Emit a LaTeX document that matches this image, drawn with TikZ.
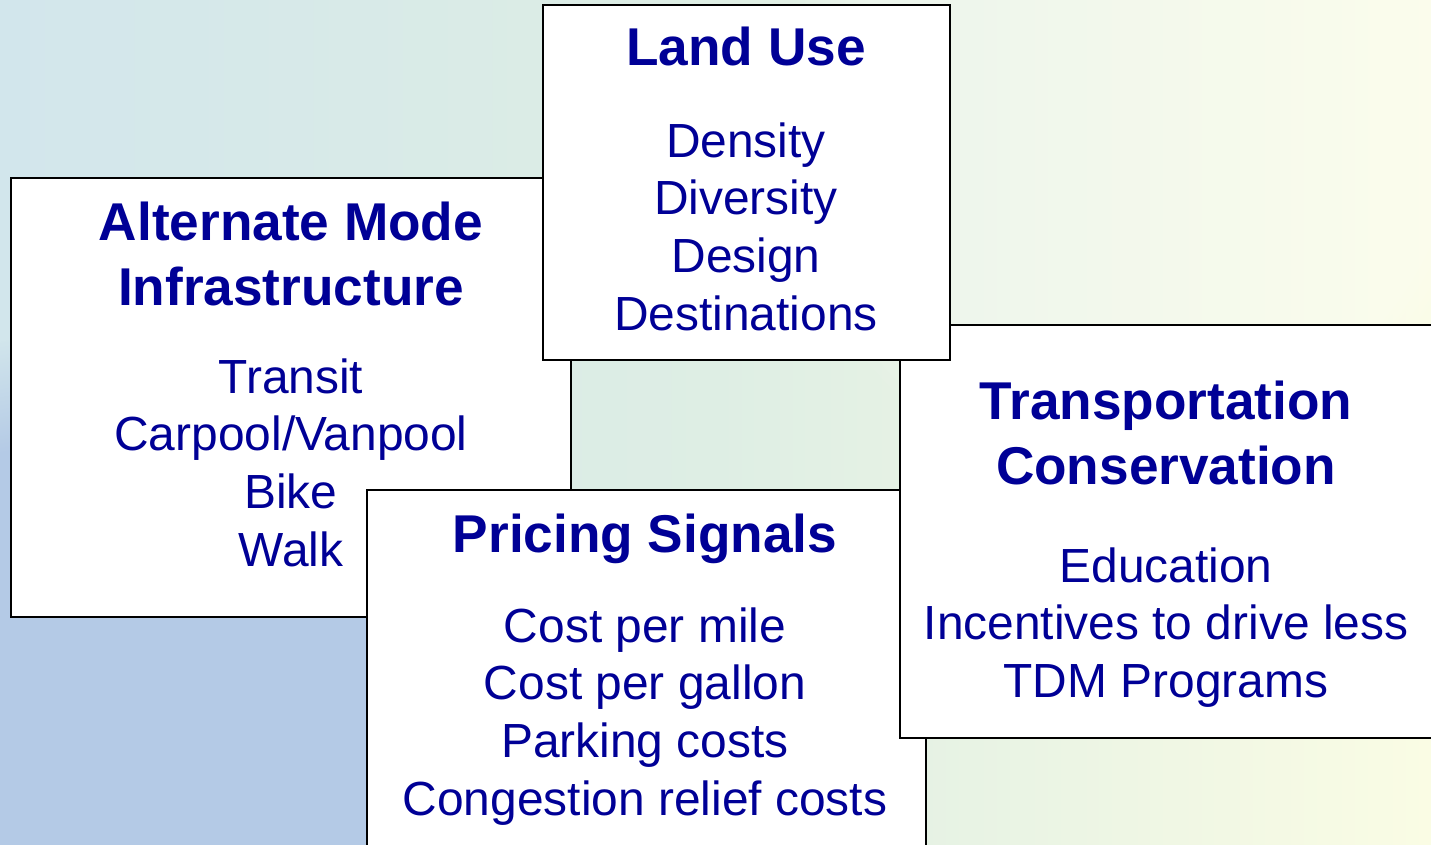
\documentclass[tikz,border=0pt]{standalone}
\usepackage{fontspec}
\setmainfont{Liberation Sans}
\usetikzlibrary{fadings}
\definecolor{navy}{RGB}{0,0,150}
\definecolor{bgL}{RGB}{210,230,236}
\definecolor{bgM}{RGB}{222,238,228}
\definecolor{bgR}{RGB}{250,252,228}
\definecolor{globe}{RGB}{180,202,230}
\tikzset{
  card/.style={draw=black, line width=2pt, fill=white, inner sep=0pt, anchor=north west},
  ttl/.style={text=navy, align=center, anchor=base, inner sep=0pt,
    font=\fontsize{53.2}{65}\selectfont\bfseries},
  bdy/.style={text=navy, align=center, anchor=base, inner sep=0pt,
    font=\fontsize{47.9}{57.7}\selectfont},
}
\begin{document}
\begin{tikzpicture}[x=1pt,y=-1pt]
\useasboundingbox (0,0) rectangle (1431,845);
\clip (0,0) rectangle (1431,845);
% background (base anchor of a multi-line node = last line's baseline)
\shade[left color=bgL, right color=bgR, middle color=bgM] (0,0) rectangle (1431,845);
\fill[globe, path fading=circle with fuzzy edge 20 percent] (110,900) circle (570);
\fill[white, opacity=0.3, path fading=circle with fuzzy edge 20 percent] (1150,120) circle (380);
% Alternate Mode Infrastructure
\node[card, minimum width=560pt, minimum height=439pt] (am) at (10,177) {};
\node[ttl] (amt) at (291,305) {Alternate Mode\\Infrastructure};
\node[bdy] (amb) at (291,566.1) {Transit\\Carpool/Vanpool\\Bike\\Walk};
% Pricing Signals
\node[card, minimum width=559pt, minimum height=380pt] (ps) at (366,489) {};
\node[ttl] (pst) at (645,552) {Pricing Signals};
\node[bdy] (psb) at (645,815.1) {Cost per mile\\Cost per gallon\\Parking costs\\Congestion relief costs};
% Transportation Conservation
\node[card, minimum width=534pt, minimum height=413pt] (tc) at (899,324) {};
\node[ttl] (tct) at (1166,484) {Transportation\\Conservation};
\node[bdy] (tcb) at (1166,697.4) {Education\\Incentives to drive less\\TDM Programs};
% Land Use
\node[card, minimum width=407pt, minimum height=355pt] (lu) at (542,4) {};
\node[ttl] (lut) at (746,66) {Land Use};
\node[bdy] (lub) at (746,330.1) {Density\\Diversity\\Design\\Destinations};
\end{tikzpicture}
\end{document}
